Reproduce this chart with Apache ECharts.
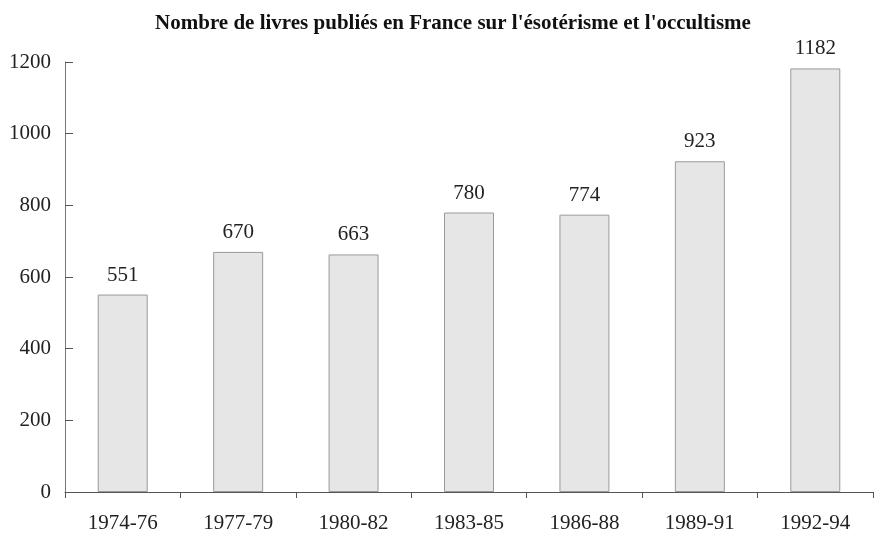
<!DOCTYPE html>
<html>
<head>
<meta charset="utf-8">
<script src="https://cdn.jsdelivr.net/npm/echarts@6/dist/echarts.min.js"></script>
<style>
  html, body { margin: 0; padding: 0; background: #fff; }
  #chart { width: 883px; height: 535px; }
</style>
</head>
<body>
<div id="chart"></div>
<script>
// données
const periodes = ['1974-76', '1977-79', '1980-82', '1983-85', '1986-88', '1989-91', '1992-94'];
const livres = [551, 670, 663, 780, 774, 923, 1182];
const yTicks = [0, 200, 400, 600, 800, 1000, 1200];

const serif = '"Liberation Serif", "DejaVu Serif", serif';
const chart = echarts.init(document.getElementById('chart'));

chart.setOption({
  animation: false,
  title: {
    text: "Nombre de livres publiés en France sur l'ésotérisme et l'occultisme",
    left: 448,
    textAlign: 'center',
    top: 8,
    textStyle: { fontFamily: serif, fontWeight: 'bold', fontSize: 21, color: '#111' }
  },
  grid: { left: 65, right: 10, top: 62, bottom: 43 },
  xAxis: {
    type: 'category',
    data: periodes,
    axisLine: { lineStyle: { color: '#555', width: 1 } },
    axisTick: { show: true, length: 6, lineStyle: { color: '#555' } },
    axisLabel: { margin: 21, fontFamily: serif, fontSize: 21, color: '#222' }
  },
  yAxis: {
    type: 'value',
    min: 0,
    max: yTicks[yTicks.length - 1],
    interval: 200,
    axisLine: { show: true, lineStyle: { color: '#777', width: 1 } },
    axisTick: { show: true, inside: true, length: 8, lineStyle: { color: '#555' } },
    splitLine: { show: false },
    axisLabel: {
      margin: 14,
      fontFamily: serif,
      fontSize: 21,
      color: '#222',
      formatter: v => String(v)
    }
  },
  series: [{
    type: 'bar',
    data: livres,
    barWidth: 50,
    itemStyle: { color: '#e6e6e6', borderColor: '#9a9a9a', borderWidth: 1 },
    label: {
      show: true,
      position: 'top',
      distance: 9,
      fontFamily: serif,
      fontSize: 21,
      color: '#222'
    }
  }]
});
</script>
</body>
</html>
